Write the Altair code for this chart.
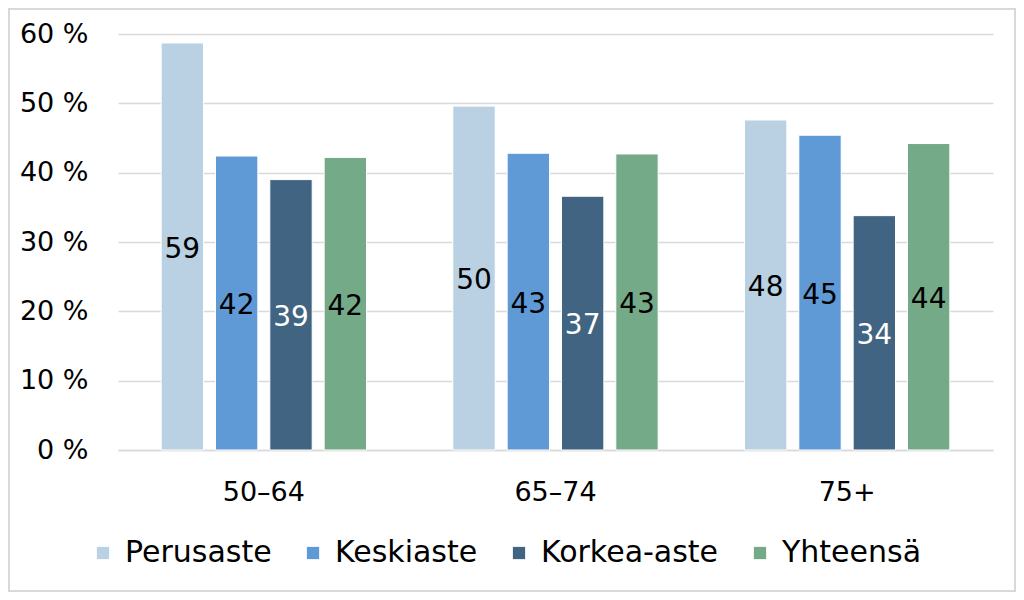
import altair as alt
import pandas as pd

groups = ["50–64", "65–74", "75+"]
series = ["Perusaste", "Keskiaste", "Korkea-aste", "Yhteensä"]
colors = ["#B9D1E2", "#5F9AD7", "#416482", "#74AA88"]
perusaste = [58.7, 49.6, 47.6]
keskiaste = [42.4, 42.8, 45.4]
korkea = [39.0, 36.6, 33.8]
yhteensa = [42.2, 42.7, 44.2]
perusaste_lbl = ["59", "50", "48"]
keskiaste_lbl = ["42", "43", "45"]
korkea_lbl = ["39", "37", "34"]
yhteensa_lbl = ["42", "43", "44"]
y_ticks = [0, 10, 20, 30, 40, 50, 60]

vals = [perusaste, keskiaste, korkea, yhteensa]
lbls = [perusaste_lbl, keskiaste_lbl, korkea_lbl, yhteensa_lbl]
rows = []
for s, v, l in zip(series, vals, lbls):
    for g, x, t in zip(groups, v, l):
        rows.append({"group": g, "series": s, "value": x, "label": t})
df = pd.DataFrame(rows)

W, H = 875, 416
FONT = "DejaVu Sans"

x_enc = alt.X("group:N", sort=groups, title=None,
              scale=alt.Scale(paddingInner=0.255, paddingOuter=0.1275),
              axis=alt.Axis(labelAngle=0, labelFontSize=27, labelFont=FONT,
                            labelColor="#000000", labelPadding=29, ticks=False,
                            domainColor="#D9D9D9", domainWidth=1.5))
xoff = alt.XOffset("series:N", sort=series,
                   scale=alt.Scale(paddingInner=0.22, paddingOuter=0.11))

bars = alt.Chart(df).mark_bar(stroke="white", strokeWidth=1).encode(
    x=x_enc,
    xOffset=xoff,
    y=alt.Y("value:Q", title=None,
            scale=alt.Scale(domain=[0, 60], nice=False),
            axis=alt.Axis(values=y_ticks, labelExpr="datum.value + ' %'",
                          labelFontSize=27, labelFont=FONT, labelColor="#000000",
                          labelPadding=30, ticks=False, domain=False,
                          gridColor="#D9D9D9", gridWidth=1.5)),
    color=alt.Color("series:N", sort=series,
                    scale=alt.Scale(domain=series, range=colors),
                    legend=alt.Legend(title=None, orient="none", direction="horizontal",
                                      legendX=-30, legendY=504,
                                      symbolType="square", symbolSize=150,
                                      symbolStrokeWidth=0, labelLimit=0,
                                      labelFontSize=30, labelFont=FONT,
                                      labelColor="#000000", labelOffset=7,
                                      columnPadding=26)),
)

labels = alt.Chart(df).transform_calculate(half="datum.value / 2").mark_text(
    fontSize=28, font=FONT, baseline="middle", align="center", dy=3
).encode(
    x=alt.X("group:N", sort=groups),
    xOffset=xoff,
    y=alt.Y("half:Q"),
    text="label:N",
    color=alt.condition(alt.datum.series == "Korkea-aste",
                        alt.value("white"), alt.value("black")),
)

frame = alt.Chart(pd.DataFrame({"a": [0]})).mark_rect(
    fill=None, stroke="#D9D9D9", strokeWidth=2
).encode(
    x=alt.value(-109), x2=alt.value(W + 22),
    y=alt.value(-25), y2=alt.value(H + 141),
)

chart = alt.layer(bars, labels, frame).properties(
    width=W, height=H,
    autosize=alt.AutoSizeParams(type="none"),
    padding={"left": 110, "top": 26, "right": 23, "bottom": 142},
).configure_view(stroke=None)

chart.save("out.html", embed_options={"renderer": "svg", "actions": False})
